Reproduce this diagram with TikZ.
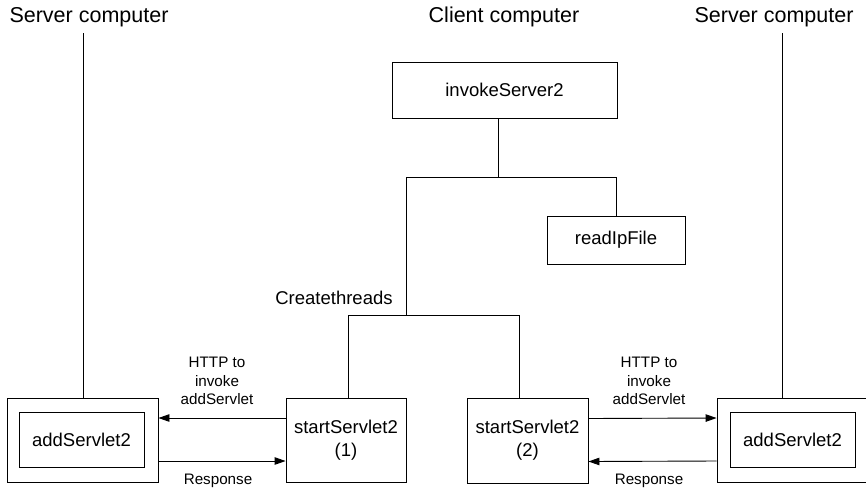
\documentclass[tikz,border=0pt]{standalone}
\usepackage{fontspec}
\setmainfont{Liberation Sans}
\usetikzlibrary{arrows.meta, positioning, calc}

\begin{document}
\begin{tikzpicture}[x=1pt, y=-1pt,
  box/.style={draw, line width=0.9pt, inner sep=0pt, align=center,
    font=\fontsize{18.5}{23}\selectfont},
  link/.style={line width=0.9pt},
  msg/.style={line width=0.9pt, -{Triangle[length=11pt, width=7.5pt]}},
  coltitle/.style={font=\fontsize{21.5}{25}\selectfont},
  msglabel/.style={align=center, font=\fontsize{15.2}{18.5}\selectfont}]

  \useasboundingbox (0,0) rectangle (866,490);

  %% column titles
  \node[coltitle] (srvLtitle) at (89,17) {Server computer};
  \node[coltitle] (clienttitle) at (504,17) {Client computer};
  \node[coltitle] (srvRtitle) at (774,17) {Server computer};

  %% client computer
  \node[box, minimum width=225pt, minimum height=56pt] (invoke) at (504.5,90) {invokeServer2};
  \node[box, minimum width=138pt, minimum height=48pt] (readip) at (616,240) {readIpFile};
  \node[box, minimum width=120pt, minimum height=84pt] (start1) at (346,440) {startServlet2\\(1)};
  \node[box, minimum width=121pt, minimum height=85pt] (start2) at (527.5,440.5) {startServlet2\\(2)};
  \node[font=\fontsize{18.5}{22}\selectfont] (create) at (334,298) {Createthreads};

  \coordinate (split) at (498,177);
  \coordinate (threads) at (406,315);
  \draw[link] ([xshift=-6.5pt]invoke.south) -- (split);
  \draw[link] (split -| threads) -- (split -| readip) -- (readip.north);
  \draw[link] (split -| threads) -- (threads);
  \draw[link] ([xshift=2pt]start1.north) |- ([xshift=-8pt]start2.north |- threads)
    -- ([xshift=-8pt]start2.north);

  %% server computers
  \node[box, minimum width=151pt, minimum height=84pt] (addLo) at (82.5,440) {};
  \node[box, minimum width=125pt, minimum height=55pt] (addLi) at (81.5,439.5) {addServlet2};
  \node[box, minimum width=150pt, minimum height=84pt] (addRo) at (792,440) {};
  \node[box, minimum width=125pt, minimum height=55pt] (addRi) at (792.5,439.5) {addServlet2};

  \coordinate (srvLtop) at (83,33);
  \coordinate (srvRtop) at (782,33);
  \draw[link] (srvLtop) -- (srvLtop |- addLo.north);
  \draw[link] (srvRtop) -- (srvRtop |- addRo.north);

  %% requests and responses
  \draw[msg] ([yshift=22pt]start1.west) -- ([yshift=22pt]addLo.east);
  \draw[msg] ([yshift=-21pt]addLo.east) -- ([yshift=-21pt]start1.west);
  \draw[msg] ([yshift=22pt]start2.east) -- ([yshift=22pt]addRo.west);
  \draw[msg] ([yshift=-21pt]addRo.west) -- ([yshift=-21pt]start2.east);

  \node[msglabel] (httpL) at (217,381) {HTTP to\\invoke\\addServlet};
  \node[msglabel] (respL) at (218,481) {Response};
  \node[msglabel] (httpR) at (649,381) {HTTP to\\invoke\\addServlet};
  \node[msglabel] (respR) at (649,481) {Response};

\end{tikzpicture}
\end{document}
